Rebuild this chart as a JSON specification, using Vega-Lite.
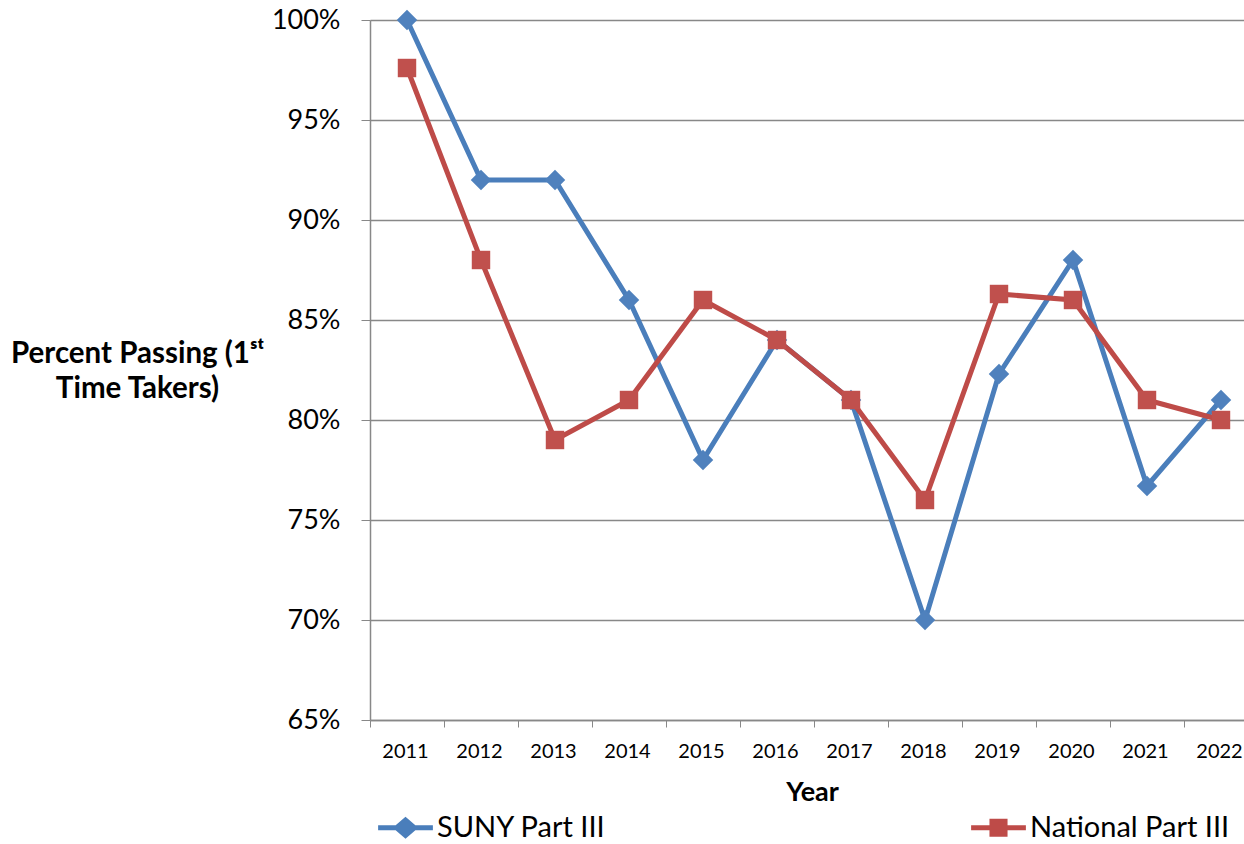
{
  "$schema": "https://vega.github.io/schema/vega-lite/v6.json",
  "width": 874,
  "height": 700,
  "autosize": {"type": "none"},
  "padding": {"left": 370, "top": 20, "right": 0, "bottom": 124},
  "background": "white",
  "config": {
    "view": {"stroke": null},
    "font": "Lato"
  },
  "data": {
    "values": [
      {"Year": "2011", "series": "SUNY Part III", "pct": 1.0},
      {"Year": "2012", "series": "SUNY Part III", "pct": 0.92},
      {"Year": "2013", "series": "SUNY Part III", "pct": 0.92},
      {"Year": "2014", "series": "SUNY Part III", "pct": 0.86},
      {"Year": "2015", "series": "SUNY Part III", "pct": 0.78},
      {"Year": "2016", "series": "SUNY Part III", "pct": 0.84},
      {"Year": "2017", "series": "SUNY Part III", "pct": 0.81},
      {"Year": "2018", "series": "SUNY Part III", "pct": 0.70},
      {"Year": "2019", "series": "SUNY Part III", "pct": 0.823},
      {"Year": "2020", "series": "SUNY Part III", "pct": 0.88},
      {"Year": "2021", "series": "SUNY Part III", "pct": 0.767},
      {"Year": "2022", "series": "SUNY Part III", "pct": 0.81},
      {"Year": "2011", "series": "National Part III", "pct": 0.976},
      {"Year": "2012", "series": "National Part III", "pct": 0.88},
      {"Year": "2013", "series": "National Part III", "pct": 0.79},
      {"Year": "2014", "series": "National Part III", "pct": 0.81},
      {"Year": "2015", "series": "National Part III", "pct": 0.86},
      {"Year": "2016", "series": "National Part III", "pct": 0.84},
      {"Year": "2017", "series": "National Part III", "pct": 0.81},
      {"Year": "2018", "series": "National Part III", "pct": 0.76},
      {"Year": "2019", "series": "National Part III", "pct": 0.863},
      {"Year": "2020", "series": "National Part III", "pct": 0.86},
      {"Year": "2021", "series": "National Part III", "pct": 0.81},
      {"Year": "2022", "series": "National Part III", "pct": 0.80}
    ]
  },
  "encoding": {
    "x": {
      "field": "Year",
      "type": "ordinal",
      "scale": {"type": "band", "range": [0, 888], "paddingInner": 0, "paddingOuter": 0},
      "axis": {
        "title": "Year",
        "labelAngle": 0,
        "labelFont": "Lato",
        "labelFontSize": 20,
        "labelColor": "black",
        "labelPadding": 14,
        "labelOffset": -2,
        "tickBand": "extent",
        "tickSize": 7,
        "tickColor": "#888888",
        "domainColor": "#888888",
        "domainWidth": 1.5,
        "titleFont": "Lato",
        "titleFontSize": 27,
        "titleFontWeight": "bold",
        "titleColor": "black",
        "titlePadding": 18,
        "titleX": 442,
        "grid": false
      }
    },
    "y": {
      "field": "pct",
      "type": "quantitative",
      "scale": {"domain": [0.65, 1.0], "nice": false, "zero": false},
      "axis": {
        "values": [0.65, 0.7, 0.75, 0.8, 0.85, 0.9, 0.95, 1.0],
        "format": ".0%",
        "title": ["Percent Passing (1ˢᵗ", "Time Takers)"],
        "titleAngle": 0,
        "titleAlign": "center",
        "titleBaseline": "middle",
        "titleX": -233,
        "titleY": 333,
        "titleLineHeight": 35,
        "titleFont": "Lato",
        "titleFontSize": 29.5,
        "titleFontWeight": "bold",
        "titleColor": "black",
        "labelFont": "Lato",
        "labelFontSize": 27,
        "labelColor": "black",
        "labelPadding": 21,
        "tickSize": 9,
        "tickColor": "#888888",
        "domainColor": "#888888",
        "domainWidth": 1.5,
        "grid": true,
        "gridColor": "#888888",
        "gridWidth": 1.5
      }
    },
    "color": {
      "field": "series",
      "type": "nominal",
      "scale": {"domain": ["SUNY Part III", "National Part III"], "range": ["#4A7EBB", "#BE4B48"]},
      "legend": {
        "title": null,
        "orient": "none",
        "legendX": 8,
        "legendY": 780,
        "direction": "horizontal",
        "columns": 2,
        "columnPadding": 365,
        "labelFont": "Lato",
        "labelFontSize": 29,
        "labelColor": "black",
        "labelOffset": 4,
        "labelLimit": 400,
        "symbolSize": 3000,
        "symbolStrokeWidth": 0,
        "encode": {
          "symbols": {
            "update": {
              "shape": {"signal": "datum.value === 'SUNY Part III' ? 'M-1,-0.09L-0.36,-0.09L0,-0.4L0.36,-0.09L1,-0.09L1,0.09L0.36,0.09L0,0.4L-0.36,0.09L-1,0.09Z' : 'M-1,-0.09L-0.33,-0.09L-0.33,-0.33L0.33,-0.33L0.33,-0.09L1,-0.09L1,0.09L0.33,0.09L0.33,0.33L-0.33,0.33L-0.33,0.09L-1,0.09Z'"},
              "fill": {"signal": "datum.value === 'SUNY Part III' ? '#4A7EBB' : '#BE4B48'"},
              "fillOpacity": {"value": 1},
              "strokeWidth": {"value": 0}
            }
          }
        }
      }
    }
  },
  "layer": [
    {
      "mark": {"type": "line", "strokeWidth": 5, "clip": false}
    },
    {
      "transform": [{"filter": "datum.series === 'SUNY Part III'"}],
      "mark": {"type": "point", "shape": "diamond", "filled": true, "size": 420, "opacity": 1, "color": "#4F81BD"},
      "encoding": {"color": {"value": "#4F81BD"}}
    },
    {
      "transform": [{"filter": "datum.series === 'National Part III'"}],
      "mark": {"type": "point", "shape": "square", "filled": true, "size": 340, "opacity": 1, "color": "#C0504D"},
      "encoding": {"color": {"value": "#C0504D"}}
    }
  ]
}
